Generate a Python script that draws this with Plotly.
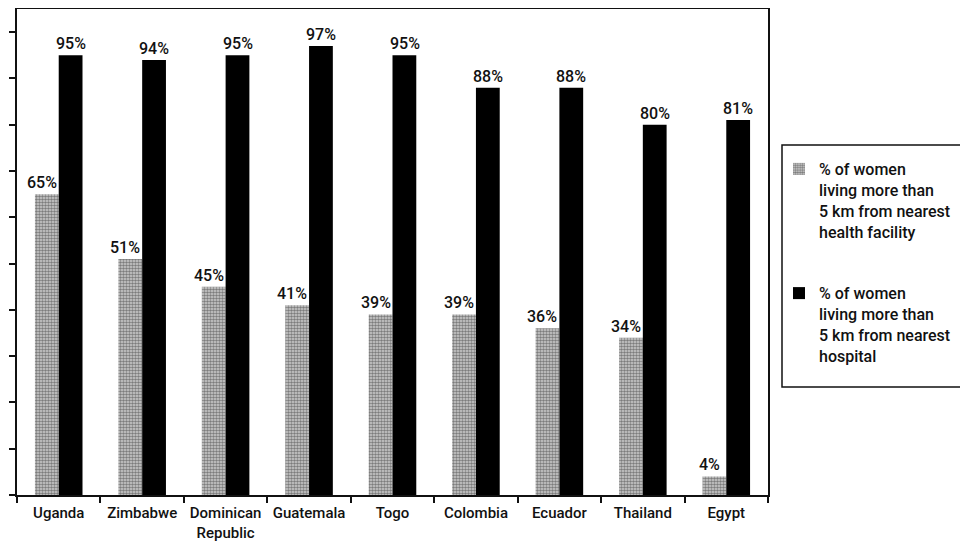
import plotly.graph_objects as go

countries = ["Uganda", "Zimbabwe", "Dominican<br>Republic", "Guatemala", "Togo",
             "Colombia", "Ecuador", "Thailand", "Egypt"]
health_facility = [65, 51, 45, 41, 39, 39, 36, 34, 4]
hospital = [95, 94, 95, 97, 95, 88, 88, 80, 81]
y_ticks = [0, 10, 20, 30, 40, 50, 60, 70, 80, 90, 100]

FONT = "Roboto"
INK = "#111111"

fig = go.Figure()
fig.add_trace(go.Bar(
    x=countries, y=health_facility,
    name="% of women<br>living more than<br>5 km from nearest<br>health facility",
    legendgroup="a",
    marker=dict(color="#9a9a9a", line=dict(width=0),
                pattern=dict(shape=".", fgcolor="#2a2a2a", bgcolor="#cfcfcf", size=3, solidity=0.55)),
))
fig.add_trace(go.Bar(
    x=countries, y=hospital,
    name="% of women<br>living more than<br>5 km from nearest<br>hospital",
    legendgroup="b",
    marker=dict(color="#000000", line=dict(width=0)),
))

# value labels above the bars
for vals, shift in ((health_facility, -17), (hospital, 12)):
    for c, v in zip(countries, vals):
        fig.add_annotation(x=c, y=v, text=f"{v}%", showarrow=False,
                           xshift=shift, yshift=0, yanchor="bottom",
                           font=dict(family=FONT, size=16, color=INK, weight=500))

# legend frame
fig.add_shape(type="rect", xref="paper", yref="paper",
              x0=(774 - 9) / 751, x1=(956 - 9) / 751,
              y0=(487 - 379) / 486, y1=(487 - 137) / 486,
              line=dict(color=INK, width=1.5), fillcolor="rgba(0,0,0,0)")

fig.update_layout(
    width=968, height=546,
    margin=dict(l=9, r=208, t=1, b=59),
    paper_bgcolor="white", plot_bgcolor="white",
    barmode="group", bargap=0.43, bargroupgap=0,
    font=dict(family=FONT, size=15, color=INK, weight=500),
    showlegend=True,
    legend=dict(x=(771 - 9) / 751, y=(487 - 144) / 486, xanchor="left", yanchor="top",
                borderwidth=0, bgcolor="rgba(0,0,0,0)",
                font=dict(family=FONT, size=16, color=INK, weight=500),
                tracegroupgap=38, valign="top",
                traceorder="grouped"),
)
fig.update_xaxes(
    showline=True, linecolor=INK, linewidth=2, mirror=True,
    ticks="outside", tickson="boundaries", ticklen=6, tickcolor=INK, tickwidth=2,
    tickfont=dict(family=FONT, size=15, color=INK, weight=500),
    tickangle=0, automargin=False, ticklabelstandoff=3,
    showgrid=False,
)
fig.update_yaxes(
    range=[0, 105], tickvals=y_ticks, showticklabels=False,
    showline=True, linecolor=INK, linewidth=2, mirror=True,
    ticks="outside", ticklen=6, tickcolor=INK, tickwidth=2,
    showgrid=False, zeroline=False, automargin=False,
)

fig.write_html("out.html")
